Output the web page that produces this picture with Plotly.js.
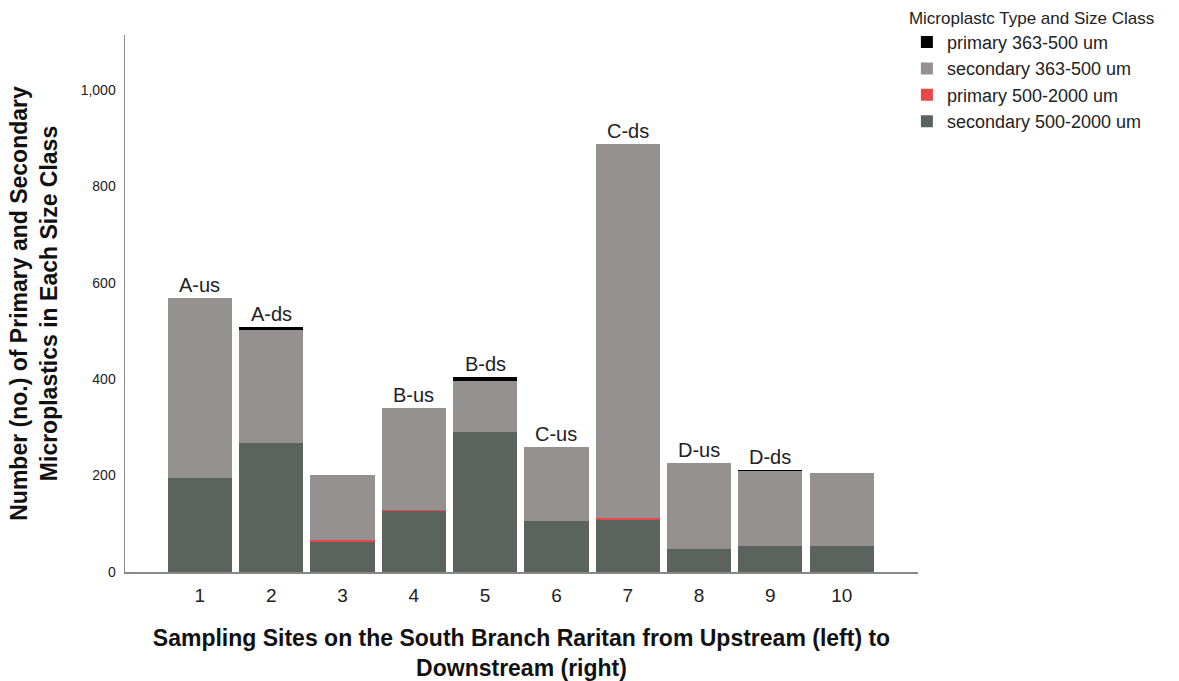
<!DOCTYPE html>
<html>
<head>
<meta charset="utf-8">
<script src="https://cdn.plot.ly/plotly-3.0.1.min.js"></script>
<style>html,body{margin:0;padding:0;background:#fff;}#chart{width:1179px;height:681px;}</style>
</head>
<body>
<div id="chart"></div>
<script>
const sites = [1, 2, 3, 4, 5, 6, 7, 8, 9, 10];
const siteLabels = ["A-us", "A-ds", "", "B-us", "B-ds", "C-us", "C-ds", "D-us", "D-ds", ""];
const secondary500_2000 = [196, 267, 63, 126, 290, 106, 108, 48, 53, 53];
const primary500_2000 = [0, 0, 4, 2, 0, 0, 5, 0, 0, 0];
const secondary363_500 = [373, 234, 134, 213, 107, 154, 774, 179, 157, 152];
const primary363_500 = [0, 8, 1, 0, 7, 0, 0, 0, 1, 0];

const totals = sites.map((s, i) => secondary500_2000[i] + primary500_2000[i] + secondary363_500[i] + primary363_500[i]);

function bar(name, y, color) {
  return {type: 'bar', name: name, x: sites, y: y, marker: {color: color}, hoverinfo: 'x+y+name'};
}
const data = [
  bar('secondary 500-2000 um', secondary500_2000, '#5a635e'),
  bar('primary 500-2000 um', primary500_2000, '#e8474a'),
  bar('secondary 363-500 um', secondary363_500, '#959190'),
  bar('primary 363-500 um', primary363_500, '#000000')
];

const annotations = sites.map((s, i) => ({
  x: s, y: totals[i], text: siteLabels[i], showarrow: false,
  yanchor: 'bottom', yshift: 0, font: {family: 'Liberation Sans, Arial', size: 20, color: '#222'}
})).filter(a => a.text);

const layout = {
  width: 1179, height: 681,
  margin: {l: 125, r: 261, t: 35, b: 109, autoexpand: false},
  paper_bgcolor: '#fff', plot_bgcolor: '#fff',
  barmode: 'stack', bargap: 0.1,
  font: {family: 'Liberation Sans, Arial', color: '#222'},
  xaxis: {
    range: [-0.05, 11.07], tickvals: sites, ticktext: sites.map(String),
    showgrid: false, zeroline: false, showline: true, linecolor: '#888', linewidth: 1.5,
    ticks: '', ticklabelstandoff: 6, tickfont: {size: 19, color: '#222'},
    title: {text: '<b>Sampling Sites on the South Branch Raritan from Upstream (left) to<br>Downstream (right)</b>', font: {size: 23, color: '#111'}, standoff: 24}
  },
  yaxis: {
    range: [0, 1114], tickvals: [0, 200, 400, 600, 800, 1000], tickformat: ',',
    showgrid: false, zeroline: false, showline: true, linecolor: '#888', linewidth: 1.5,
    ticks: '', ticklabelstandoff: 5, tickfont: {size: 14, color: '#222'},
    title: {text: '<b>Number (no.) of Primary and Secondary<br>Microplastics in Each Size Class</b>', font: {size: 23, color: '#111'}, standoff: 16}
  },
  legend: {
    x: 0.986, xanchor: 'left', y: 1.062, yanchor: 'top', traceorder: 'reversed',
    font: {size: 18, color: '#222'},
    title: {text: 'Microplastc Type and Size Class', font: {size: 17, color: '#222'}, side: 'top'},
    bgcolor: 'rgba(0,0,0,0)', itemwidth: 30, tracegroupgap: 0
  },
  annotations: annotations,
  showlegend: true
};
Plotly.newPlot('chart', data, layout, {displayModeBar: false, staticPlot: true});
</script>
</body>
</html>
